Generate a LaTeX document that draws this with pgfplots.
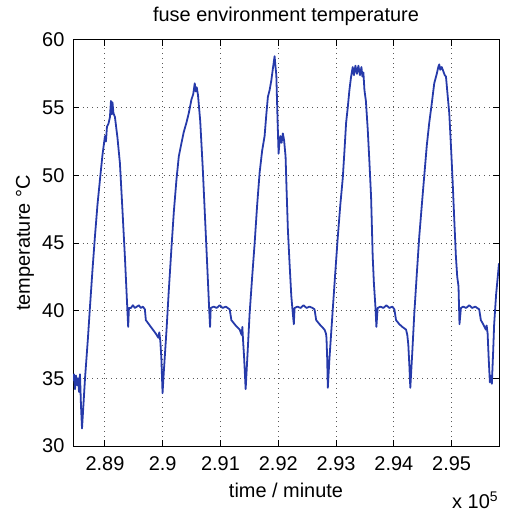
\documentclass[border=0pt]{standalone}
\usepackage{fontspec}
\setmainfont{Liberation Sans}
\usepackage{pgfplots}
\pgfplotsset{compat=1.18}
\usetikzlibrary{calc}
\definecolor{mblue}{RGB}{38,58,170}
\begin{document}
\begin{tikzpicture}
\begin{axis}[
  scale only axis,
  width=213bp, height=203bp,
  xmin=2.88447, xmax=2.9582,
  ymin=30, ymax=60,
  xtick={2.89,2.9,2.91,2.92,2.93,2.94,2.95},
  ytick={30,35,40,45,50,55,60},
  scaled x ticks=false,
  xticklabel style={/pgf/number format/fixed,/pgf/number format/precision=2, yshift=-2bp},
  yticklabel style={xshift=-0.8bp},
  /pgf/number format/assume math mode=true,
  tick align=inside,
  tick pos=both,
  major tick length=3bp,
  grid=major,
  major grid style={black!65, dotted, line width=0.5pt},
  axis line style={black, line width=0.5pt},
  tick style={black, line width=0.5pt},
  ticklabel style={font=\fontsize{10}{12}\selectfont},
  clip=true,
]
\addplot[mblue, line width=0.9pt, line join=round] table[row sep=\\] {
x y\\
2.88447 34.8\\ 2.88465 35.3\\ 2.88482 34.2\\ 2.88499 35.2\\ 2.88516 34.5\\ 2.88534 35.0\\ 2.88551 34.0\\ 2.88568 35.3\\ 2.88585 33.0\\ 2.88603 31.3\\ 2.88620 32.5\\ 2.88655 35.0\\ 2.88706 38.0\\ 2.88741 40.3\\ 2.88784 43.0\\ 2.88827 45.5\\ 2.88870 47.8\\ 2.88914 49.7\\ 2.88957 51.5\\ 2.89000 52.9\\ 2.89017 52.5\\ 2.89035 53.6\\ 2.89060 53.8\\ 2.89086 54.3\\ 2.89104 55.5\\ 2.89116 54.5\\ 2.89130 55.4\\ 2.89147 54.6\\ 2.89173 54.3\\ 2.89216 52.8\\ 2.89259 50.9\\ 2.89302 47.5\\ 2.89345 44.0\\ 2.89380 40.8\\ 2.89402 38.8\\ 2.89415 40.2\\ 2.89449 40.2\\ 2.89484 40.4\\ 2.89518 40.2\\ 2.89553 40.3\\ 2.89587 40.4\\ 2.89622 40.2\\ 2.89656 40.3\\ 2.89691 40.1\\ 2.89708 39.3\\ 2.89743 39.1\\ 2.89777 38.9\\ 2.89829 38.6\\ 2.89881 38.3\\ 2.89924 38.0\\ 2.89941 38.4\\ 2.89959 37.7\\ 2.89976 36.5\\ 2.89997 33.9\\ 2.90019 35.5\\ 2.90066 38.6\\ 2.90105 41.5\\ 2.90152 44.7\\ 2.90192 47.3\\ 2.90238 49.7\\ 2.90278 51.4\\ 2.90325 52.4\\ 2.90364 53.2\\ 2.90411 53.9\\ 2.90451 54.6\\ 2.90497 55.6\\ 2.90528 56.0\\ 2.90554 56.8\\ 2.90572 56.2\\ 2.90589 56.5\\ 2.90611 55.9\\ 2.90649 54.0\\ 2.90693 50.5\\ 2.90736 46.5\\ 2.90779 42.5\\ 2.90805 40.0\\ 2.90819 38.8\\ 2.90831 40.2\\ 2.90883 40.3\\ 2.90934 40.2\\ 2.90986 40.4\\ 2.91038 40.2\\ 2.91090 40.3\\ 2.91124 40.2\\ 2.91159 40.1\\ 2.91188 39.3\\ 2.91263 38.9\\ 2.91332 38.6\\ 2.91366 38.2\\ 2.91378 38.8\\ 2.91389 37.9\\ 2.91409 36.5\\ 2.91435 34.2\\ 2.91470 37.0\\ 2.91504 39.8\\ 2.91548 42.5\\ 2.91591 45.0\\ 2.91634 47.8\\ 2.91677 50.2\\ 2.91720 51.8\\ 2.91763 52.9\\ 2.91793 54.5\\ 2.91820 55.8\\ 2.91850 56.3\\ 2.91879 57.0\\ 2.91910 58.0\\ 2.91936 58.8\\ 2.91948 58.2\\ 2.91966 57.4\\ 2.91988 54.0\\ 2.92005 51.6\\ 2.92023 52.6\\ 2.92035 52.9\\ 2.92057 52.4\\ 2.92079 53.1\\ 2.92100 52.6\\ 2.92126 51.4\\ 2.92143 49.0\\ 2.92166 46.0\\ 2.92195 43.5\\ 2.92225 41.1\\ 2.92247 40.0\\ 2.92269 39.0\\ 2.92282 40.2\\ 2.92333 40.3\\ 2.92385 40.2\\ 2.92437 40.4\\ 2.92489 40.2\\ 2.92541 40.3\\ 2.92592 40.2\\ 2.92627 40.1\\ 2.92656 39.3\\ 2.92713 39.0\\ 2.92800 38.6\\ 2.92826 38.3\\ 2.92834 38.0\\ 2.92846 36.5\\ 2.92857 34.3\\ 2.92886 36.5\\ 2.92943 40.1\\ 2.92986 42.8\\ 2.93029 45.4\\ 2.93073 47.8\\ 2.93116 49.8\\ 2.93145 51.8\\ 2.93174 53.9\\ 2.93202 55.0\\ 2.93231 56.3\\ 2.93257 57.2\\ 2.93288 58.0\\ 2.93309 57.4\\ 2.93335 58.1\\ 2.93361 57.5\\ 2.93387 58.1\\ 2.93413 57.4\\ 2.93439 58.0\\ 2.93456 57.3\\ 2.93473 57.6\\ 2.93491 56.3\\ 2.93516 55.5\\ 2.93548 53.4\\ 2.93577 51.0\\ 2.93606 48.4\\ 2.93634 44.0\\ 2.93655 42.0\\ 2.93681 40.3\\ 2.93698 38.8\\ 2.93720 40.2\\ 2.93767 40.3\\ 2.93819 40.2\\ 2.93871 40.4\\ 2.93922 40.2\\ 2.93974 40.3\\ 2.94009 40.1\\ 2.94038 39.3\\ 2.94095 39.0\\ 2.94147 38.8\\ 2.94211 38.6\\ 2.94233 38.2\\ 2.94250 37.5\\ 2.94268 36.0\\ 2.94285 34.3\\ 2.94320 37.0\\ 2.94354 39.8\\ 2.94397 42.7\\ 2.94440 45.5\\ 2.94484 47.8\\ 2.94527 50.0\\ 2.94570 52.2\\ 2.94613 53.9\\ 2.94656 55.3\\ 2.94699 56.8\\ 2.94743 57.5\\ 2.94769 58.0\\ 2.94786 58.2\\ 2.94803 57.8\\ 2.94829 58.0\\ 2.94855 57.7\\ 2.94881 57.4\\ 2.94902 57.3\\ 2.94929 56.0\\ 2.94959 54.6\\ 2.94988 52.2\\ 2.95016 49.7\\ 2.95045 46.8\\ 2.95074 44.0\\ 2.95097 42.5\\ 2.95119 41.8\\ 2.95136 39.0\\ 2.95161 40.2\\ 2.95200 40.3\\ 2.95252 40.2\\ 2.95304 40.4\\ 2.95356 40.2\\ 2.95408 40.3\\ 2.95442 40.2\\ 2.95477 40.1\\ 2.95506 39.3\\ 2.95546 39.0\\ 2.95592 38.6\\ 2.95606 38.9\\ 2.95623 38.3\\ 2.95641 36.5\\ 2.95662 34.7\\ 2.95679 35.2\\ 2.95696 34.6\\ 2.95719 37.0\\ 2.95736 39.0\\ 2.95770 41.2\\ 2.95820 43.5\\
};
\coordinate (bl) at (rel axis cs:0,0);
\coordinate (tr) at (rel axis cs:1,1);
\end{axis}
\path ([shift={(-36.5bp,-34.5bp)}]bl) rectangle ([shift={(6bp,20bp)}]tr);
\begin{scope}[every node/.style={font=\fontsize{10}{12}\selectfont, inner sep=0pt}]
\node[anchor=center] at ($(bl|-tr)!0.5!(tr)+(0,12bp)$) {fuse environment temperature};
\node[anchor=center] at ($(bl)!0.5!(bl-|tr)+(0,-22bp)$) {time / minute};
\node[anchor=center, rotate=90] at ($(bl)!0.5!(bl|-tr)+(-24bp,0)$) {temperature °C};
\node[anchor=east] at ($(bl-|tr)+(0,-27bp)$) {x 10\textsuperscript{5}};
\end{scope}
\end{tikzpicture}
\end{document}
